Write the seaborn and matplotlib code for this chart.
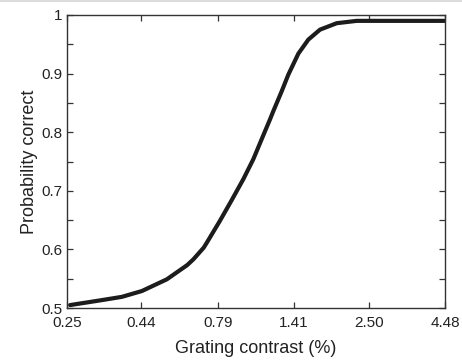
import numpy as np
import pandas as pd
import matplotlib
matplotlib.use("Agg")
import matplotlib.pyplot as plt
import seaborn as sns
from matplotlib.lines import Line2D
from matplotlib.ticker import FixedLocator, FixedFormatter, NullLocator

# Values
contrast = [0.256, 0.322, 0.380, 0.443, 0.536, 0.625, 0.656, 0.710, 0.726,
            0.804, 0.879, 0.961, 1.037, 1.105, 1.178, 1.208, 1.288, 1.354,
            1.462, 1.578, 1.725, 1.960, 2.283, 2.50, 3.50, 4.48]
prob_correct = [0.505, 0.513, 0.519, 0.529, 0.549, 0.573, 0.583, 0.603, 0.611,
                0.649, 0.684, 0.720, 0.754, 0.788, 0.822, 0.836, 0.870, 0.898,
                0.934, 0.958, 0.975, 0.986, 0.990, 0.990, 0.990, 0.990]
x_ticks = [0.25, 0.44, 0.79, 1.41, 2.50, 4.48]
x_tick_labels = ["0.25", "0.44", "0.79", "1.41", "2.50", "4.48"]
y_ticks = [0.5, 0.55, 0.6, 0.65, 0.7, 0.75, 0.8, 0.85, 0.9, 0.95, 1.0]
y_tick_labels = ["0.5", "", "0.6", "", "0.7", "", "0.8", "", "0.9", "", "1"]

sns.set_style("ticks")
plt.rcParams["font.family"] = ["Liberation Sans", "DejaVu Sans"]

df = pd.DataFrame({"contrast": contrast, "p": prob_correct})

fig = plt.figure(figsize=(4.62, 3.61), dpi=100)
ax = fig.add_axes([67 / 462, 53 / 361, (445 - 67) / 462, (308 - 15) / 361])

sns.lineplot(data=df, x="contrast", y="p", ax=ax, color="#1c1c1c",
             linewidth=3.0, estimator=None, sort=True)

ax.set_xscale("log")
ax.set_xlim(0.25, 4.48)
ax.set_ylim(0.5, 1.0)
ax.xaxis.set_major_locator(FixedLocator(x_ticks))
ax.xaxis.set_major_formatter(FixedFormatter(x_tick_labels))
ax.xaxis.set_minor_locator(NullLocator())
ax.yaxis.set_major_locator(FixedLocator(y_ticks))
ax.yaxis.set_major_formatter(FixedFormatter(y_tick_labels))
ax.yaxis.set_minor_locator(NullLocator())

ax.tick_params(direction="in", length=4, width=0.9, top=True, right=True,
               labelsize=11, colors="#333333", labelcolor="#222222")
ax.tick_params(axis="x", pad=6)
ax.tick_params(axis="y", pad=3)
for s in ax.spines.values():
    s.set_linewidth(1.0)
    s.set_color("#333333")

ax.set_xlabel("Grating contrast (%)", fontsize=13, color="#222222")
ax.set_ylabel("Probability correct", fontsize=13, color="#222222")
ax.xaxis.set_label_coords(0.5, -0.11)
ax.yaxis.set_label_coords(-0.076, 0.5)

# faint border line at the top edge of the image
fig.add_artist(Line2D([0, 1], [0.998, 0.998], transform=fig.transFigure,
                      color="#dcdcdc", linewidth=1.5))

fig.savefig("out.png", dpi=100)
